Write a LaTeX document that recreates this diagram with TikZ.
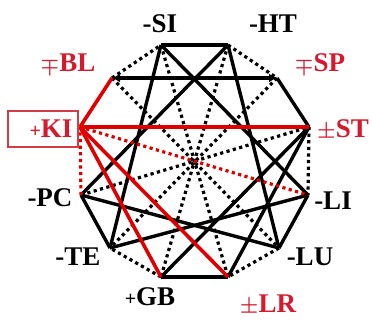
\documentclass[tikz,border=0pt]{standalone}
\usepackage{fontspec}
\usetikzlibrary{arrows.meta}
\setmainfont{Liberation Serif}
\definecolor{kred}{RGB}{225,0,0}
\definecolor{lred}{RGB}{215,25,45}
\definecolor{bred}{RGB}{210,60,70}
\newcommand{\sgn}[1]{{\fontsize{20}{20}\selectfont\boldmath#1}}
\begin{document}
\begin{tikzpicture}[x=1pt,y=-1pt,
  sl/.style={draw=black,line width=3.4pt},
  dl/.style={draw=black,line width=3.2pt,dash pattern=on 3.2pt off 3.4pt},
  rs/.style={draw=kred,line width=3.6pt},
  rd/.style={draw=kred,line width=3.2pt,dash pattern=on 3.2pt off 3.4pt},
  tipboth/.style={{Latex[length=8pt,width=9pt]}-{Latex[length=8pt,width=9pt]}},
  lab/.style={font=\fontsize{27}{27}\selectfont\bfseries,inner sep=0pt,text=black},
  rlab/.style={lab,text=lred}]
\useasboundingbox (0,0) rectangle (372,321);
% vertices
\coordinate (SI) at (161,45);
\coordinate (HT) at (228,45);
\coordinate (SP) at (277,78);
\coordinate (ST) at (309,127);
\coordinate (LI) at (308,195);
\coordinate (LU) at (279,248);
\coordinate (LR) at (228,277);
\coordinate (GB) at (161,277);
\coordinate (TE) at (110,248);
\coordinate (PC) at (81,195);
\coordinate (KI) at (80,127);
\coordinate (BL) at (112,78);
% dotted edges
\draw[dl] (HT) -- (SP);
\draw[dl] (ST) -- (LI);
\draw[dl] (LU) -- (LR);
\draw[dl] (GB) -- (TE);
\draw[dl] (BL) -- (SI);
\draw[dl] (SI) -- (LR);
\draw[dl] (HT) -- (GB);
\draw[dl] (BL) -- (LU);
\draw[dl] (SP) -- (TE);
\draw[dl] (PC) -- (ST);
% solid black edges
\draw[sl] (SI) -- (HT);
\draw[sl] (SP) -- (ST);
\draw[sl] (LI) -- (LU);
\draw[sl] (LR) -- (GB);
\draw[sl] (TE) -- (PC);
\draw[sl,tipboth] (BL) -- (SP);
\draw[sl] (SI) -- (LI);
\draw[sl] (HT) -- (PC);
\draw[sl] (SI) -- (TE);
\draw[sl] (HT) -- (LU);
\draw[sl] (PC) -- (LU);
\draw[sl] (TE) -- (LI);
\draw[sl] (GB) -- (ST);
\draw[sl] (LR) -- (ST);
% red edges
\draw[rd] (PC) -- (KI);
\draw[rd] (KI) -- (LI);
\draw[rs] (KI) -- (BL);
\draw[rs] (KI) -- (ST);
\draw[rs] (KI) -- (LR);
\draw[rs] (KI) -- (GB);
% labels
\node[lab] (lSI) at (160,24) {-SI};
\node[lab] (lHT) at (273,24) {-HT};
\node[rlab] (lBL) at (68,64) {\sgn{$\mp$}BL};
\node[rlab] (lSP) at (320,64) {\sgn{$\mp$}SP};
\node[rlab] (lKI) at (51,129) {\sgn{+}KI};
\draw[draw=bred,line width=2.2pt] (8,111) rectangle (78,147);
\node[rlab] (lST) at (343,130) {\sgn{$\pm$}ST};
\node[lab] (lPC) at (50,198) {-PC};
\node[lab] (lLI) at (333,201) {-LI};
\node[lab] (lTE) at (78,257) {-TE};
\node[lab] (lLU) at (310,257) {-LU};
\node[lab] (lGB) at (150,297) {\sgn{+}GB};
\node[rlab] (lLR) at (268,305) {\sgn{$\pm$}LR};
\end{tikzpicture}
\end{document}
